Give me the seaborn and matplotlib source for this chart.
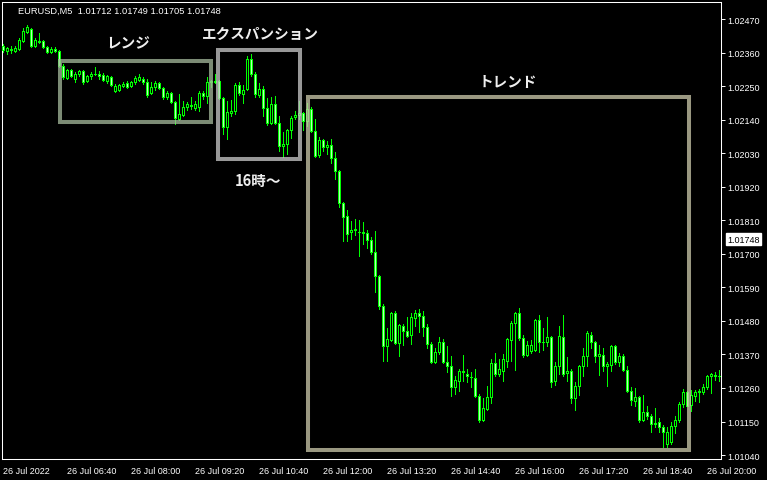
"""EURUSD M5 candlestick chart (MT4 style) with range / expansion / trend boxes."""

import numpy as np
import pandas as pd
import matplotlib
matplotlib.use("Agg")
import matplotlib.pyplot as plt
import matplotlib.transforms as mtransforms
from matplotlib.patches import Rectangle
import seaborn as sns

# --- candles (5 min bars, 05:20 .. 20:15) ---
opens = [
    1.02381, 1.02365, 1.02368, 1.02365, 1.02372, 1.02398, 1.02427, 1.02437, 1.02381, 1.02398,
    1.02398, 1.02378, 1.02362, 1.02372, 1.02365, 1.02316, 1.02276, 1.02303, 1.02273, 1.02290,
    1.02299, 1.02267, 1.02283, 1.02290, 1.02290, 1.02286, 1.02267, 1.02280, 1.02234, 1.02237,
    1.02250, 1.02260, 1.02250, 1.02263, 1.02270, 1.02273, 1.02263, 1.02227, 1.02247, 1.02260,
    1.02244, 1.02214, 1.02227, 1.02198, 1.02142, 1.02155, 1.02181, 1.02188, 1.02178, 1.02181,
    1.02227, 1.02217, 1.02263, 1.02267, 1.02267, 1.02211, 1.02116, 1.02162, 1.02168, 1.02254,
    1.02224, 1.02240, 1.02339, 1.02290, 1.02221, 1.02240, 1.02178, 1.02129, 1.02191, 1.02129,
    1.02053, 1.02060, 1.02106, 1.02148, 1.02155, 1.02162, 1.02135, 1.02175, 1.02103, 1.02024,
    1.02073, 1.02050, 1.02057, 1.02014, 1.01972, 1.01867, 1.01824, 1.01771, 1.01778, 1.01771,
    1.01771, 1.01768, 1.01745, 1.01706, 1.01627, 1.01529, 1.01398, 1.01417, 1.01506, 1.01407,
    1.01463, 1.01447, 1.01434, 1.01489, 1.01506, 1.01496, 1.01460, 1.01404, 1.01345, 1.01378,
    1.01411, 1.01345, 1.01332, 1.01263, 1.01283, 1.01312, 1.01306, 1.01296, 1.01293, 1.01234,
    1.01155, 1.01191, 1.01230, 1.01342, 1.01306, 1.01315, 1.01348, 1.01417, 1.01473, 1.01506,
    1.01424, 1.01368, 1.01381, 1.01384, 1.01483, 1.01411, 1.01411, 1.01427, 1.01283, 1.01332,
    1.01427, 1.01309, 1.01315, 1.01227, 1.01266, 1.01332, 1.01365, 1.01434, 1.01411, 1.01365,
    1.01368, 1.01332, 1.01335, 1.01398, 1.01345, 1.01365, 1.01319, 1.01250, 1.01217, 1.01230,
    1.01155, 1.01181, 1.01168, 1.01145, 1.01148, 1.01132, 1.01076, 1.01083, 1.01135, 1.01155,
    1.01207, 1.01247, 1.01204, 1.01234, 1.01247, 1.01247, 1.01263, 1.01299, 1.01302, 1.01299,
]
highs = [
    1.02388, 1.02378, 1.02381, 1.02381, 1.02408, 1.02440, 1.02450, 1.02440, 1.02408, 1.02424,
    1.02401, 1.02381, 1.02378, 1.02378, 1.02368, 1.02322, 1.02306, 1.02306, 1.02296, 1.02303,
    1.02303, 1.02286, 1.02296, 1.02313, 1.02299, 1.02293, 1.02286, 1.02283, 1.02257, 1.02257,
    1.02263, 1.02267, 1.02267, 1.02283, 1.02290, 1.02280, 1.02273, 1.02263, 1.02267, 1.02263,
    1.02247, 1.02234, 1.02231, 1.02201, 1.02224, 1.02201, 1.02198, 1.02214, 1.02201, 1.02234,
    1.02234, 1.02280, 1.02270, 1.02290, 1.02270, 1.02214, 1.02201, 1.02204, 1.02260, 1.02263,
    1.02254, 1.02349, 1.02355, 1.02296, 1.02260, 1.02250, 1.02211, 1.02214, 1.02217, 1.02152,
    1.02099, 1.02109, 1.02152, 1.02168, 1.02201, 1.02165, 1.02194, 1.02181, 1.02142, 1.02083,
    1.02076, 1.02070, 1.02076, 1.02034, 1.01975, 1.01870, 1.01843, 1.01808, 1.01814, 1.01811,
    1.01804, 1.01778, 1.01755, 1.01775, 1.01630, 1.01535, 1.01457, 1.01509, 1.01512, 1.01470,
    1.01470, 1.01493, 1.01506, 1.01516, 1.01519, 1.01512, 1.01470, 1.01411, 1.01391, 1.01427,
    1.01420, 1.01398, 1.01365, 1.01299, 1.01322, 1.01368, 1.01322, 1.01312, 1.01322, 1.01240,
    1.01227, 1.01266, 1.01355, 1.01374, 1.01355, 1.01371, 1.01424, 1.01479, 1.01509, 1.01522,
    1.01434, 1.01414, 1.01417, 1.01486, 1.01499, 1.01457, 1.01493, 1.01430, 1.01345, 1.01463,
    1.01499, 1.01361, 1.01322, 1.01279, 1.01335, 1.01391, 1.01447, 1.01443, 1.01414, 1.01401,
    1.01391, 1.01345, 1.01401, 1.01401, 1.01374, 1.01371, 1.01332, 1.01263, 1.01260, 1.01234,
    1.01237, 1.01201, 1.01174, 1.01194, 1.01161, 1.01138, 1.01132, 1.01148, 1.01168, 1.01214,
    1.01256, 1.01250, 1.01253, 1.01253, 1.01256, 1.01273, 1.01302, 1.01309, 1.01312, 1.01319,
]
lows = [
    1.02362, 1.02355, 1.02358, 1.02362, 1.02368, 1.02395, 1.02424, 1.02378, 1.02378, 1.02391,
    1.02375, 1.02358, 1.02358, 1.02362, 1.02313, 1.02273, 1.02273, 1.02280, 1.02263, 1.02283,
    1.02257, 1.02263, 1.02273, 1.02286, 1.02273, 1.02267, 1.02260, 1.02250, 1.02231, 1.02234,
    1.02247, 1.02244, 1.02247, 1.02257, 1.02267, 1.02257, 1.02214, 1.02224, 1.02237, 1.02240,
    1.02208, 1.02208, 1.02194, 1.02126, 1.02139, 1.02152, 1.02171, 1.02175, 1.02171, 1.02168,
    1.02208, 1.02194, 1.02247, 1.02260, 1.02208, 1.02093, 1.02076, 1.02152, 1.02158, 1.02221,
    1.02194, 1.02237, 1.02283, 1.02214, 1.02214, 1.02152, 1.02122, 1.02126, 1.02126, 1.02037,
    1.02017, 1.02027, 1.02080, 1.02142, 1.02142, 1.02106, 1.02119, 1.02099, 1.02017, 1.02017,
    1.02037, 1.02027, 1.01998, 1.01945, 1.01853, 1.01742, 1.01742, 1.01748, 1.01762, 1.01693,
    1.01732, 1.01719, 1.01699, 1.01575, 1.01519, 1.01348, 1.01348, 1.01414, 1.01404, 1.01365,
    1.01401, 1.01427, 1.01404, 1.01463, 1.01443, 1.01430, 1.01391, 1.01342, 1.01342, 1.01371,
    1.01342, 1.01312, 1.01234, 1.01240, 1.01250, 1.01283, 1.01279, 1.01263, 1.01230, 1.01148,
    1.01152, 1.01188, 1.01211, 1.01299, 1.01299, 1.01283, 1.01329, 1.01348, 1.01319, 1.01417,
    1.01361, 1.01365, 1.01374, 1.01381, 1.01378, 1.01384, 1.01398, 1.01263, 1.01270, 1.01306,
    1.01299, 1.01283, 1.01211, 1.01188, 1.01237, 1.01299, 1.01332, 1.01391, 1.01345, 1.01302,
    1.01315, 1.01266, 1.01315, 1.01338, 1.01332, 1.01315, 1.01247, 1.01204, 1.01201, 1.01148,
    1.01152, 1.01158, 1.01115, 1.01132, 1.01115, 1.01066, 1.01066, 1.01076, 1.01112, 1.01148,
    1.01197, 1.01201, 1.01184, 1.01217, 1.01214, 1.01240, 1.01256, 1.01243, 1.01286, 1.01283,
]
closes = [
    1.02368, 1.02375, 1.02372, 1.02375, 1.02401, 1.02431, 1.02444, 1.02381, 1.02401, 1.02395,
    1.02378, 1.02362, 1.02372, 1.02365, 1.02316, 1.02280, 1.02303, 1.02283, 1.02290, 1.02299,
    1.02263, 1.02283, 1.02290, 1.02290, 1.02283, 1.02270, 1.02283, 1.02254, 1.02250, 1.02254,
    1.02257, 1.02247, 1.02263, 1.02276, 1.02280, 1.02263, 1.02221, 1.02247, 1.02260, 1.02244,
    1.02214, 1.02227, 1.02198, 1.02145, 1.02158, 1.02181, 1.02191, 1.02185, 1.02191, 1.02227,
    1.02217, 1.02263, 1.02267, 1.02263, 1.02211, 1.02116, 1.02165, 1.02168, 1.02254, 1.02227,
    1.02237, 1.02339, 1.02290, 1.02224, 1.02240, 1.02178, 1.02129, 1.02191, 1.02129, 1.02053,
    1.02060, 1.02106, 1.02145, 1.02155, 1.02162, 1.02135, 1.02175, 1.02103, 1.02021, 1.02073,
    1.02050, 1.02057, 1.02014, 1.01972, 1.01867, 1.01821, 1.01765, 1.01778, 1.01781, 1.01771,
    1.01768, 1.01745, 1.01706, 1.01627, 1.01529, 1.01398, 1.01420, 1.01506, 1.01407, 1.01466,
    1.01447, 1.01430, 1.01493, 1.01506, 1.01496, 1.01460, 1.01404, 1.01345, 1.01378, 1.01411,
    1.01345, 1.01332, 1.01263, 1.01286, 1.01315, 1.01315, 1.01299, 1.01296, 1.01234, 1.01155,
    1.01194, 1.01230, 1.01342, 1.01306, 1.01322, 1.01355, 1.01420, 1.01473, 1.01506, 1.01424,
    1.01368, 1.01401, 1.01401, 1.01483, 1.01411, 1.01411, 1.01427, 1.01279, 1.01332, 1.01430,
    1.01306, 1.01315, 1.01227, 1.01266, 1.01332, 1.01365, 1.01440, 1.01411, 1.01365, 1.01371,
    1.01332, 1.01338, 1.01398, 1.01345, 1.01365, 1.01319, 1.01250, 1.01220, 1.01230, 1.01155,
    1.01181, 1.01168, 1.01142, 1.01142, 1.01132, 1.01115, 1.01115, 1.01135, 1.01155, 1.01207,
    1.01247, 1.01201, 1.01237, 1.01247, 1.01250, 1.01263, 1.01299, 1.01306, 1.01299, 1.01299,
]

start_time = "2022-07-26 05:20"
x_tick_times = ["05:20", "06:40", "08:00", "09:20", "10:40", "12:00",
                "13:20", "14:40", "16:00", "17:20", "18:40", "20:00"]
x_tick_labels = ["26 Jul 2022", "26 Jul 06:40", "26 Jul 08:00", "26 Jul 09:20",
                 "26 Jul 10:40", "26 Jul 12:00", "26 Jul 13:20", "26 Jul 14:40",
                 "26 Jul 16:00", "26 Jul 17:20", "26 Jul 18:40", "26 Jul 20:00"]
y_ticks = [1.02470, 1.02360, 1.02250, 1.02140, 1.02030, 1.01920, 1.01810,
           1.01700, 1.01590, 1.01480, 1.01370, 1.01260, 1.01150, 1.01040]
header = "EURUSD,M5  1.01712 1.01749 1.01705 1.01748"
last_price = 1.01748

# boxes: (bar from, bar to), (price low, price high), colour
box_bars = [(14.2, 51.9), (53.7, 74.2), (76.2, 171.4)]
box_prices = [(1.02132, 1.02332), (1.02011, 1.02368), (1.01056, 1.02214)]
box_colors = ["#a7bb9d", "#cccccc", "#cfccad"]

notes = ["レンジ", "エクスパンション", "16時〜", "トレンド"]
note_bars = [31.2, 64.4, 63.7, 126.2]
note_prices = [1.02394, 1.02424, 1.01942, 1.02267]

LIME = "#00ff00"

sns.set_style("dark", {"axes.facecolor": "black", "figure.facecolor": "black"})
plt.rcParams["font.family"] = ["Liberation Sans", "DejaVu Sans"]

df = pd.DataFrame({"open": opens, "high": highs, "low": lows, "close": closes})
df["time"] = pd.date_range(start_time, periods=len(df), freq="5min")
df["x"] = np.arange(len(df))
up = df["close"] >= df["open"]

fig = plt.figure(figsize=(7.67, 4.81), dpi=100)
ax = fig.add_axes([2 / 767, 1 - 460 / 481, 719 / 767, 457 / 481])
ax.set_facecolor("black")

# wicks then bodies (hollow = up, filled = down)
ax.vlines(df["x"], df["low"], df["high"], color=LIME, lw=0.72, zorder=2,
          antialiased=False)
ax.bar(df["x"][up], (df["close"] - df["open"])[up], bottom=df["open"][up],
       width=0.42, facecolor="black", edgecolor=LIME, lw=0.72, zorder=3,
       antialiased=False)
ax.bar(df["x"][~up], (df["open"] - df["close"])[~up], bottom=df["close"][~up],
       width=0.42, facecolor="#b8ffb8", edgecolor=LIME, lw=0.72, zorder=3,
       antialiased=False)

for (x0, x1), (p0, p1), c in zip(box_bars, box_prices, box_colors):
    ax.add_patch(Rectangle((x0, p0), x1 - x0, p1 - p0, fill=False, edgecolor=c,
                           lw=2.9, alpha=0.75, joinstyle="miter", zorder=4))

for txt, bx, py in zip(notes, note_bars, note_prices):
    ax.text(bx, py, txt, ha="center", va="center", fontsize=10.5, fontweight="bold",
            color="#eeeeee", family=["Noto Sans CJK JP", "DejaVu Sans"], zorder=5)

ax.set_xlim(-0.33, 179.43)
ax.set_ylim(1.01027, 1.02526)

times = df["time"].dt.strftime("%H:%M").tolist()
ax.set_xticks([times.index(t) for t in x_tick_times])
ax.set_xticklabels(x_tick_labels, ha="left")
ax.yaxis.tick_right()
ax.set_yticks(y_ticks)
ax.set_yticklabels([f"{v:.5f}" for v in y_ticks])
ax.tick_params(axis="both", colors="white", labelcolor="white", labelsize=6.5,
               length=3, width=0.7, direction="out", pad=1.5)
ax.tick_params(axis="x", pad=2)
ax.grid(False)
for s in ax.spines.values():
    s.set_color("white")
    s.set_linewidth(0.75)
    s.set_visible(True)

fig.text(18 / 767, 1 - 11 / 481, header, color="white", fontsize=6.7,
         ha="left", va="center")

trans = mtransforms.blended_transform_factory(ax.transAxes, ax.transData)
ax.annotate(f"{last_price:.5f}", xy=(1, last_price), xycoords=trans,
            xytext=(4.5, 0), textcoords="offset points", ha="left", va="center",
            fontsize=6.5, color="black", annotation_clip=False,
            bbox=dict(boxstyle="square,pad=0.15", facecolor="white", edgecolor="white"))

fig.savefig("out.png", dpi=100, facecolor="black")
